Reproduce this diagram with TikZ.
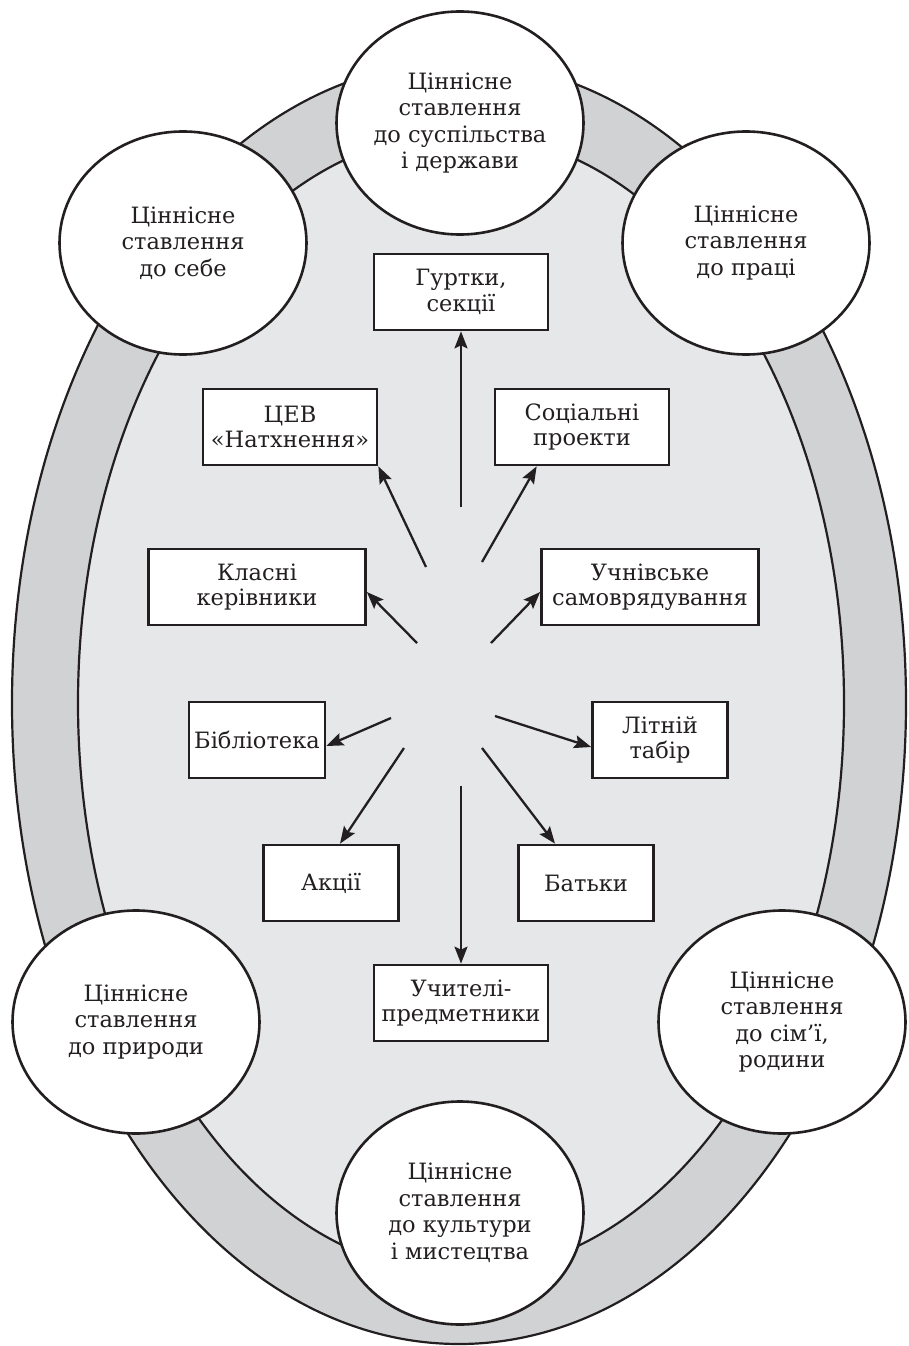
\documentclass[tikz,border=0pt]{standalone}
\usepackage{fontspec}
\setmainfont{DejaVu Serif}
\usetikzlibrary{shapes.geometric,arrows.meta}
\definecolor{ring}{HTML}{D1D2D4}
\definecolor{field}{HTML}{E6E7E8}
\definecolor{ink}{HTML}{231F20}

\begin{document}
\begin{tikzpicture}[x=1pt, y=-1pt,
	value/.style={ellipse, draw=ink, line width=2.6pt, fill=white, minimum width=247pt, minimum height=223pt, inner sep=0pt, align=center, text=ink, font=\fontsize{22.5}{26.5}\selectfont},
	unit/.style={rectangle, draw=ink, line width=2.7pt, fill=white, minimum height=76pt, inner sep=0pt, align=center, text=ink, font=\fontsize{22.5}{25.5}\selectfont},
	link/.style={draw=ink, line width=2.3pt, -{Stealth[length=17pt, width=13pt, inset=3pt]}}]
				\useasboundingbox (0, 0) rectangle (908, 1346);
				\draw[ink, line width=2.2pt, fill=ring] (459, 703) ellipse [x radius=447pt, y radius=641pt];
				\draw[ink, line width=2.2pt, fill=field] (461, 703) ellipse [x radius=383pt, y radius=570pt];
				\node[value] (soc) at (460, 123) {Ціннісне\\ставлення\\до суспільства\\і держави};
				\node[value] (self) at (183, 243) {Ціннісне\\ставлення\\до себе};
				\node[value] (work) at (746, 243) {Ціннісне\\ставлення\\до праці};
				\node[value] (nat) at (136, 1022) {Ціннісне\\ставлення\\до природи};
				\node[value] (fam) at (782, 1022) {Ціннісне\\ставлення\\до сім’ї,\\родини};
				\node[value] (art) at (460, 1213) {Ціннісне\\ставлення\\до культури\\і мистецтва};
				\node[unit, minimum width=174pt] (g) at (461, 292) {Гуртки,\\секції};
				\node[unit, minimum width=174pt] (c) at (290, 427) {ЦЕВ\\«Натхнення»};
				\node[unit, minimum width=174pt] (p) at (582, 427) {Соціальні\\проекти};
				\node[unit, minimum width=217pt] (k) at (257, 587) {Класні\\керівники};
				\node[unit, minimum width=217pt] (u) at (650, 587) {Учнівське\\самоврядування};
				\node[unit, minimum width=136pt] (b) at (257, 740) {Бібліотека};
				\node[unit, minimum width=135pt] (l) at (660, 740) {Літній\\табір};
				\node[unit, minimum width=135pt] (a) at (331, 883) {Акції};
				\node[unit, minimum width=135pt] (r) at (586, 883) {Батьки};
				\node[unit, minimum width=174pt] (t) at (461, 1003) {Учителі-\\предметники};
				\coordinate (g0) at (461, 507);
				\coordinate (c0) at (426, 567);
				\coordinate (p0) at (482, 562);
				\coordinate (k0) at (417, 643);
				\coordinate (u0) at (491, 643);
				\coordinate (b0) at (391, 718);
				\coordinate (l0) at (495, 716);
				\coordinate (a0) at (404, 748);
				\coordinate (r0) at (482, 748);
				\coordinate (t0) at (461, 786);
				\draw[link] (g0) to (g);
				\draw[link] (c0) to (c.south east);
				\draw[link] (p0) to ([xshift=43pt]p.south west);
				\draw[link] (k0) to ([yshift=-5pt]k.east);
				\draw[link] (u0) to ([yshift=-5pt]u.west);
				\draw[link] (b0) to ([yshift=-6pt]b.east);
				\draw[link] (l0) to ([yshift=-7pt]l.west);
				\draw[link] (a0) to ([xshift=9pt]a.north);
				\draw[link] (r0) to ([xshift=-31pt]r.north);
				\draw[link] (t0) to (t);
			\end{tikzpicture}
\end{document}
